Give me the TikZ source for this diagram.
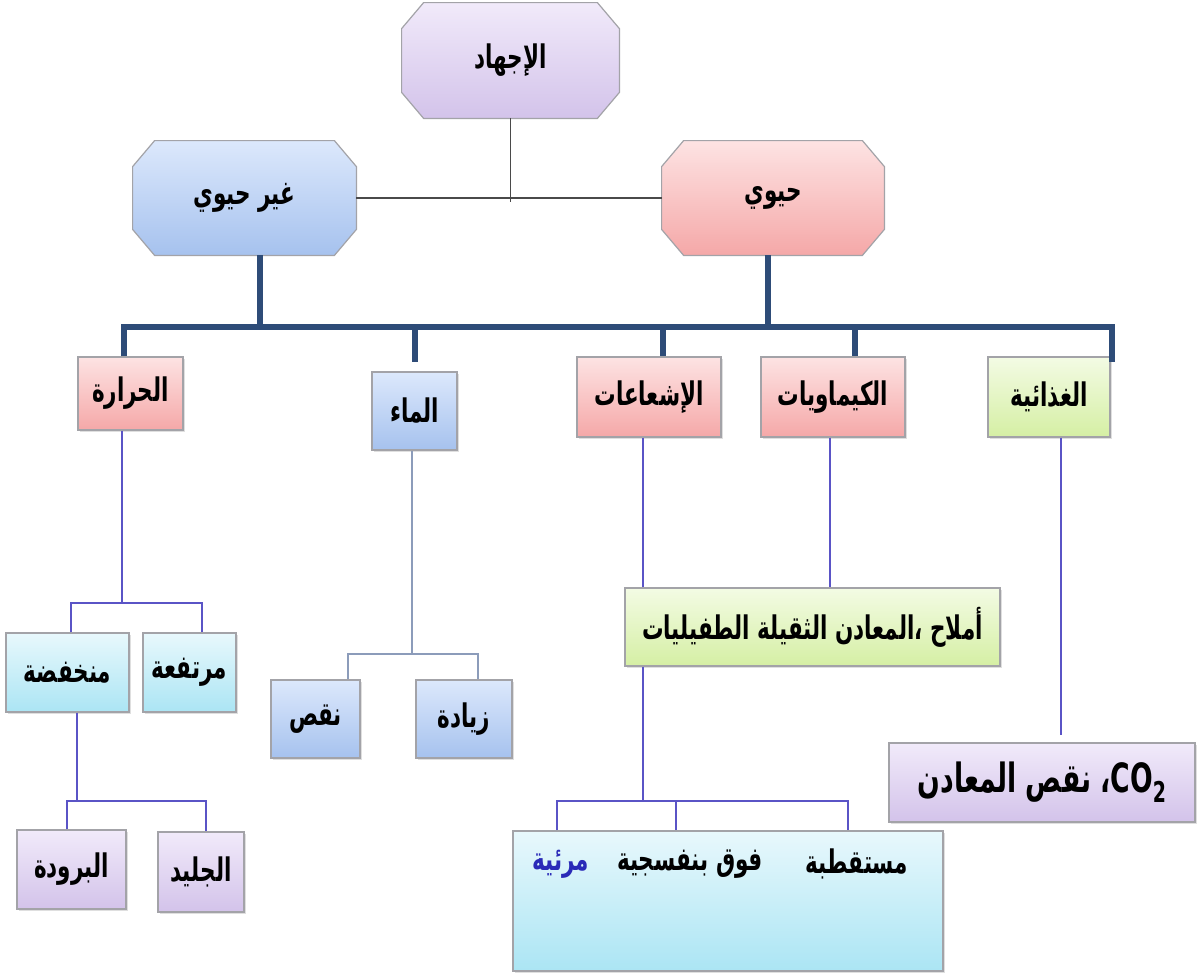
\documentclass[tikz,border=0pt]{standalone}
\usepackage{fontspec}
\newfontfamily\arabicfont[Script=Arabic]{DejaVu Sans}
\TeXXeTstate=1
\usetikzlibrary{shadows,backgrounds}
\definecolor{bordc}{HTML}{A3A3A8}
\definecolor{lavT}{HTML}{F1EAFA}
\definecolor{lavB}{HTML}{D3C3EA}
\definecolor{bluT}{HTML}{DCE8FC}
\definecolor{bluB}{HTML}{A6C2EE}
\definecolor{pnkT}{HTML}{FDE3E3}
\definecolor{pnkB}{HTML}{F5A8A8}
\definecolor{grnT}{HTML}{F3FBE4}
\definecolor{grnB}{HTML}{D5EFA4}
\definecolor{cynT}{HTML}{E8F8FC}
\definecolor{cynB}{HTML}{ABE5F4}
\definecolor{barc}{HTML}{2E4C78}
\definecolor{thinc}{HTML}{5A54C6}
\definecolor{waterc}{HTML}{8C9CBA}
\definecolor{topc}{HTML}{4A4A4A}
\definecolor{txtblue}{HTML}{2A2AB8}
\newcommand{\ar}[1]{\scalebox{0.86}[1.3]{\beginR#1\endR}}
\newcommand{\octshape}[3]{\shadedraw[top color=#2,bottom color=#3,draw=bordc,line width=0.6pt]
  ([xshift=11pt]#1.north west) -- ([xshift=-11pt]#1.north east) -- ([yshift=-13pt]#1.north east) --
  ([yshift=13pt]#1.south east) -- ([xshift=-11pt]#1.south east) -- ([xshift=11pt]#1.south west) --
  ([yshift=13pt]#1.south west) -- ([yshift=-13pt]#1.north west) -- cycle;}
\tikzset{
  lbl/.style={font=\arabicfont\bfseries\fontsize{12.5}{15}\selectfont, text=black},
  biglbl/.style={font=\arabicfont\bfseries\fontsize{15.5}{18}\selectfont},
  sz/.style 2 args={minimum width=#1*0.5pt, minimum height=#2*0.5pt},
  box/.style={lbl, rectangle, draw=bordc, line width=0.6pt, inner sep=0pt,
    drop shadow={shadow xshift=1.2pt, shadow yshift=-1.2pt, opacity=0.25}},
  pinkbox/.style={box, top color=pnkT, bottom color=pnkB},
  bluebox/.style={box, top color=bluT, bottom color=bluB},
  greenbox/.style={box, top color=grnT, bottom color=grnB},
  cyanbox/.style={box, top color=cynT, bottom color=cynB},
  lavbox/.style={box, top color=lavT, bottom color=lavB},
  octn/.style={lbl, rectangle, inner sep=0pt},
  bar/.style={barc, line width=3pt, line join=miter},
  thinl/.style={thinc, line width=1pt},
  waterl/.style={waterc, line width=0.8pt},
  topline/.style={topc, line width=0.9pt}}
\begin{document}
\begin{tikzpicture}[x=0.5pt,y=-0.5pt]
\useasboundingbox (0,0) rectangle (1197,976);

% top level
\node[octn, sz={217}{115}] (ijhad) at (510.5,60.5) {\ar{الإجهاد}};
\node[octn, sz={223}{114}] (ghayr) at (244.5,198) {\ar{غير حيوي}};
\node[octn, sz={222}{114}] (hayawi) at (773,198) {\ar{حيوي}};

% second level
\node[pinkbox, sz={105}{73}] (harara) at (130.5,393.5) {\ar{الحرارة}};
\node[bluebox, sz={85}{78}] (maa) at (414.5,411) {\ar{الماء}};
\node[pinkbox, sz={144}{80}] (ishaa) at (649,397) {\ar{الإشعاعات}};
\node[pinkbox, sz={144}{80}] (kimya) at (833,397) {\ar{الكيماويات}};
\node[greenbox, sz={122}{80}] (ghitha) at (1049,397) {\ar{الغذائية}};

% third level
\node[cyanbox, sz={123}{79}] (munkh) at (67.5,672.5) {\ar{منخفضة}};
\node[cyanbox, sz={93}{79}] (murt) at (189.5,672.5) {\ar{مرتفعة}};
\node[bluebox, sz={89}{78}] (naqs) at (315.5,719) {\ar{{\color{txtblue}ن^^^^200d}^^^^200dقص}};
\node[bluebox, sz={96}{78}] (ziyada) at (464,719) {\ar{زيادة}};
\node[greenbox, sz={375}{78}] (amlah) at (812.5,627) {\ar{أملاح ،المعادن الثقيلة الطفيليات}};
\node[lavbox, biglbl, sz={306}{79}] (co2) at (1042,782.5) {\ar{\beginL CO\raisebox{-0.45ex}{\fontsize{11}{11}\selectfont 2}\endL، نقص المعادن}};

% fourth level
\node[lavbox, sz={109}{79}] (baruda) at (71.5,869.5) {\ar{{\color{txtblue}ا}لبرودة}};
\node[lavbox, sz={86}{80}] (jalid) at (201,872) {\ar{الجليد}};
\node[cyanbox, sz={430}{140}] (big) at (728,901) {};
\node[lbl] (mustaq) at (857,864) {\ar{مستقطبة}};
\node[lbl] (fawq) at (690,864) {\ar{فوق بنفسجية}};
\node[lbl, text=txtblue] (mariyya) at (561,864) {\ar{مرئية}};

% junction coordinates
\coordinate (bL) at (124,327);
\coordinate (bR) at (1112,327);
\coordinate (bEnd) at (1112,362);
\coordinate (gV) at (260,327);
\coordinate (hV) at (768,327);
\coordinate (iD) at (663,327);
\coordinate (kD) at (855,327);
\coordinate (hJ) at (122,603);
\coordinate (hL) at (71,603);
\coordinate (hR) at (202,603);
\coordinate (mJ) at (77,801);
\coordinate (mL) at (67,801);
\coordinate (mR) at (206,801);
\coordinate (wJ) at (412,654);
\coordinate (wL) at (348,654);
\coordinate (wR) at (478,654);
\coordinate (xI) at (643,0);
\coordinate (xK) at (830,0);
\coordinate (bJ) at (643,801);
\coordinate (bL2) at (557,801);
\coordinate (bM) at (676,801);
\coordinate (bR2) at (848,801);
\coordinate (xG) at (1061,0);
\coordinate (gEnd) at (1061,735);

% top connectors
\draw[topline] (ijhad.south) -- ([yshift=-2pt]ijhad.south |- ghayr.east);
\draw[topline] (ghayr.east) -- (hayawi.west);

% thick bar
\draw[bar] (ghayr.south -| gV) -- (gV);
\draw[bar] (hayawi.south -| hV) -- (hV);
\draw[bar] (harara.north -| bL) -- (bL) -- (bR) -- (bEnd);
\draw[bar] (maa.north |- bL) -- ([yshift=4.5pt]maa.north);
\draw[bar] (iD) -- (iD |- ishaa.north);
\draw[bar] (kD) -- (kD |- kimya.north);

% heat branch
\draw[thinl] (harara.south -| hJ) -- (hJ);
\draw[thinl] (munkh.north -| hL) -- (hL) -- (hR) -- (murt.north -| hR);
\draw[thinl] (munkh.south -| mJ) -- (mJ);
\draw[thinl] (baruda.north -| mL) -- (mL) -- (mR) -- (jalid.north -| mR);

% water branch
\draw[waterl] (maa.south -| wJ) -- (wJ);
\draw[waterl] (naqs.north -| wL) -- (wL) -- (wR) -- (ziyada.north -| wR);

% radiation / chemicals
\draw[thinl] (ishaa.south -| xI) -- (amlah.north -| xI);
\draw[thinl] (kimya.south -| xK) -- (amlah.north -| xK);
\draw[thinl] (amlah.south -| bJ) -- (bJ);
\draw[thinl] (big.north -| bL2) -- (bL2) -- (bR2) -- (big.north -| bR2);
\draw[thinl] (bM) -- (big.north -| bM);

% food
\draw[thinl] (ghitha.south -| xG) -- (gEnd);

\begin{scope}[on background layer]
\fill[white] (0,0) rectangle (1197,976);
\octshape{ijhad}{lavT}{lavB}
\octshape{ghayr}{bluT}{bluB}
\octshape{hayawi}{pnkT}{pnkB}
\end{scope}
\end{tikzpicture}
\end{document}
